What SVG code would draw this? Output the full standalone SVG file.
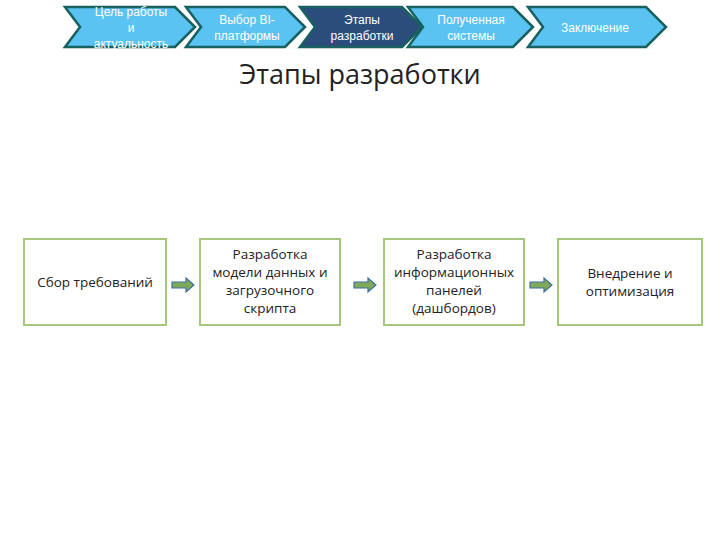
<svg xmlns="http://www.w3.org/2000/svg" width="720" height="540" viewBox="0 0 720 540">
<style>
.ch{fill:#5bc3f2;stroke:#17615f;stroke-width:2.5}
.chd{fill:#2b4d7c;stroke:#17615f;stroke-width:2.5}
.ct{font-family:"Liberation Sans",Arial,sans-serif;font-size:12px;fill:#fff;text-anchor:middle}
.bx{fill:#fff;stroke:#a4c77b;stroke-width:2}
.bt{font-family:"Open Sans","DejaVu Sans",sans-serif;font-size:13.5px;fill:#222;text-anchor:middle}
.ar{fill:#7ea85a;stroke:#3f6fa0;stroke-width:1.2}
</style>
<rect width="720" height="540" fill="#fff"/>
<g id="nav1"><polygon class="ch" points="65,7 175,7 195,27 175,47 65,47 80,27"/><text class="ct" x="131" y="16">Цель работы</text><text class="ct" x="131" y="32">и</text><text class="ct" x="131" y="48">актуальность</text></g>
<g id="nav2"><polygon class="ch" points="186,7 285,7 305,27 285,47 186,47 201,27"/><text class="ct" x="247" y="24">Выбор BI-</text><text class="ct" x="247" y="40">платформы</text></g>
<g id="nav3"><polygon class="chd" points="300,7 402,7 422,27 402,47 300,47 315,27"/><text class="ct" x="362" y="24">Этапы</text><text class="ct" x="362" y="40">разработки</text></g>
<g id="nav4"><polygon class="ch" points="408,7 513,7 533,27 513,47 408,47 423,27"/><text class="ct" x="471" y="24">Полученная</text><text class="ct" x="471" y="40">системы</text></g>
<g id="nav5"><polygon class="ch" points="528,7 646,7 666,27 646,47 528,47 543,27"/><text class="ct" x="595" y="32">Заключение</text></g>
<text x="360" y="84" font-family="'Open Sans','DejaVu Sans',sans-serif" font-size="27" fill="#222" text-anchor="middle">Этапы разработки</text>
<g id="n1"><rect class="bx" x="24" y="239" width="142" height="86"/><text class="bt" x="95" y="287">Сбор требований</text></g>
<g id="n2"><rect class="bx" x="200" y="239" width="140" height="86"/><text class="bt" x="270" y="259">Разработка</text><text class="bt" x="270" y="277">модели данных и</text><text class="bt" x="270" y="295">загрузочного</text><text class="bt" x="270" y="313">скрипта</text></g>
<g id="n3"><rect class="bx" x="384" y="239" width="140" height="86"/><text class="bt" x="454" y="259">Разработка</text><text class="bt" x="454" y="277">информационных</text><text class="bt" x="454" y="295">панелей</text><text class="bt" x="454" y="313">(дашбордов)</text></g>
<g id="n4"><rect class="bx" x="558" y="239" width="144" height="86"/><text class="bt" x="630" y="278">Внедрение и</text><text class="bt" x="630" y="296">оптимизация</text></g>
<g id="connectors">
<polygon class="ar" points="172,282 186,282 186,278 194,285 186,292 186,288 172,288"/>
<polygon class="ar" points="354,282 368,282 368,278 376,285 368,292 368,288 354,288"/>
<polygon class="ar" points="530,282 544,282 544,278 552,285 544,292 544,288 530,288"/>
</g>
</svg>
